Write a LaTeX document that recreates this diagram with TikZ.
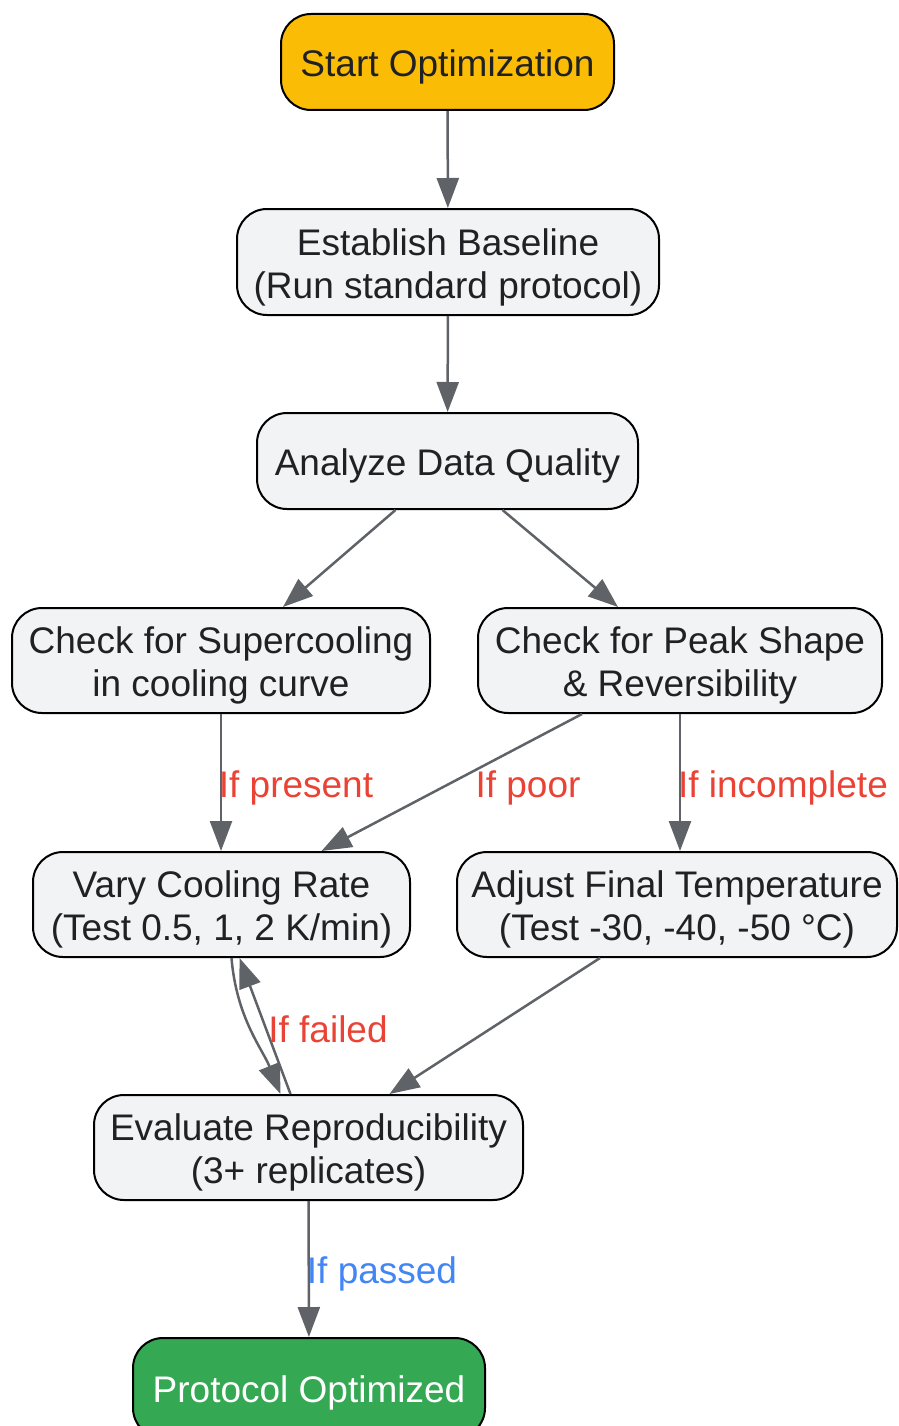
\documentclass[tikz,border=0pt]{standalone}
\usepackage{fontspec}
\setmainfont{Liberation Sans}
\usetikzlibrary{arrows.meta,positioning}
\definecolor{startyellow}{HTML}{FBBC05}
\definecolor{endgreen}{HTML}{34A853}
\definecolor{boxgrey}{HTML}{F1F3F4}
\definecolor{arrowgrey}{HTML}{5F6368}
\definecolor{textdark}{HTML}{202124}
\definecolor{labelred}{HTML}{EA4335}
\definecolor{labelblue}{HTML}{4285F4}
\newcommand{\lift}{\rule{0pt}{37pt}}

\begin{document}
\begin{tikzpicture}[x=1pt,y=-1pt,
    stepbox/.style={draw=black,line width=2pt,rounded corners=30pt,fill=boxgrey,
      align=center,inner sep=0pt,text=textdark,font=\fontsize{37}{43}\selectfont},
    flow/.style={draw=arrowgrey,line width=2.5pt,-{Triangle[length=30pt,width=22pt]}},
    cond/.style={font=\fontsize{37}{43}\selectfont,text=labelred,inner sep=0pt}]
  \useasboundingbox (0,0) rectangle (898,1426);
  % boxes
  \node[stepbox,fill=startyellow,minimum width=333pt,minimum height=96pt] (start) at (447.5,62) {\lift Start Optimization};
  \node[stepbox,minimum width=422pt,minimum height=106pt] (baseline) at (448,262) {\lift Establish Baseline\\(Run standard protocol)};
  \node[stepbox,minimum width=381pt,minimum height=96pt] (analyze) at (447.5,461) {\lift Analyze Data Quality};
  \node[stepbox,minimum width=418pt,minimum height=105pt] (super) at (221,660.5) {\lift Check for Supercooling\\in cooling curve};
  \node[stepbox,minimum width=404pt,minimum height=105pt] (peak) at (680,660.5) {\lift Check for Peak Shape\\\& Reversibility};
  \node[stepbox,minimum width=377pt,minimum height=105pt] (vary) at (221.5,904.5) {\lift Vary Cooling Rate\\(Test 0.5, 1, 2 K/min)};
  \node[stepbox,minimum width=440pt,minimum height=105pt] (adjust) at (677,904.5) {\lift Adjust Final Temperature\\(Test -30, -40, -50 °C)};
  \node[stepbox,minimum width=429pt,minimum height=105pt] (evaluate) at (308.5,1147.5) {\lift Evaluate Reproducibility\\(3+ replicates)};
  \node[stepbox,fill=endgreen,text=white,minimum width=352pt,minimum height=100pt] (done) at (309,1388) {\lift Protocol Optimized};
  % connectors
  \draw[flow] (start) -- (baseline);
  \draw[flow] (baseline) -- (analyze);
  \draw[flow] ([xshift=-52pt]analyze.south) -- ([xshift=62pt]super.north);
  \draw[flow] ([xshift=55pt]analyze.south) -- ([xshift=-62pt]peak.north);
  \draw[flow] (super.south) -- (super.south |- vary.north);
  \draw[flow] ([xshift=-98pt]peak.south) -- ([xshift=100pt]vary.north);
  \draw[flow] (peak.south) -- (peak.south |- adjust.north);
  \draw[flow] ([xshift=10pt]vary.south) .. controls +(5,60) and +(-18,-45) .. ([xshift=-28pt]evaluate.north);
  \draw[flow] ([xshift=-18pt]evaluate.north) -- ([xshift=18pt]vary.south);
  \draw[flow] ([xshift=-77pt]adjust.south) -- ([xshift=81pt]evaluate.north);
  \draw[flow] (evaluate) -- (done);
  % labels
  \node[cond] (present) at (296,788) {If present};
  \node[cond] (poor) at (528,788) {If poor};
  \node[cond] (incomplete) at (783,788) {If incomplete};
  \node[cond] (failed) at (328,1029) {If failed};
  \node[cond,text=labelblue] (passed) at (382,1274) {If passed};
\end{tikzpicture}
\end{document}
